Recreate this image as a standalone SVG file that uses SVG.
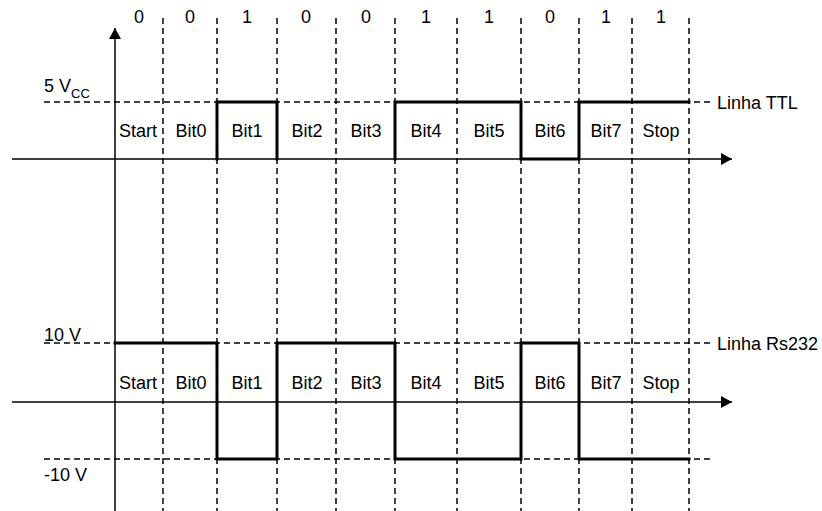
<svg xmlns="http://www.w3.org/2000/svg" width="822" height="511" viewBox="0 0 822 511">
<style>
text{font-family:"Liberation Sans",Arial,sans-serif;font-size:18px;fill:#000}
.m{text-anchor:middle}
.ax{stroke:#000;stroke-width:1.5;fill:none}
.d{stroke:#000;stroke-width:1.5;stroke-dasharray:6,4;fill:none}
.s{stroke:#000;stroke-width:3;fill:none;stroke-linejoin:miter;stroke-linecap:square}
</style>
<defs>
<marker id="ah" markerWidth="12" markerHeight="12" refX="11" refY="6" orient="auto" markerUnits="userSpaceOnUse">
<path d="M0,0 L11,6 L0,12 Z" fill="#000"/>
</marker>
</defs>
<rect width="822" height="511" fill="#fff"/>
<g id="grid">
<path class="d" d="M163,18V511M217,18V511M277,18V511M336,18V511M395,18V511M457,18V511M521,18V511M579,18V511M632,18V511M689,18V511"/>
<path class="d" d="M44,102H711M44,343H711M44,459H711"/>
</g>
<g id="axes">
<path class="ax" d="M115,511V28" marker-end="url(#ah)"/>
<path class="ax" d="M12,159H732" marker-end="url(#ah)"/>
<path class="ax" d="M12,402H732" marker-end="url(#ah)"/>
</g>
<g id="signals">
<path class="s" d="M217,159V102H277V159"/>
<path class="s" d="M395,159V102H521V159H579V102H689"/>
<path class="s" d="M115,343H217V459H277V343H395V459H521V343H579V459H689"/>
</g>
<g id="bits">
<text class="m" x="139" y="23">0</text>
<text class="m" x="190" y="23">0</text>
<text class="m" x="247" y="23">1</text>
<text class="m" x="306" y="23">0</text>
<text class="m" x="366" y="23">0</text>
<text class="m" x="426" y="23">1</text>
<text class="m" x="489" y="23">1</text>
<text class="m" x="550" y="23">0</text>
<text class="m" x="606" y="23">1</text>
<text class="m" x="661" y="23">1</text>
</g>
<g id="ttl-labels">
<text class="m" x="138" y="137">Start</text>
<text class="m" x="191" y="137">Bit0</text>
<text class="m" x="247" y="137">Bit1</text>
<text class="m" x="307" y="137">Bit2</text>
<text class="m" x="366" y="137">Bit3</text>
<text class="m" x="426" y="137">Bit4</text>
<text class="m" x="489" y="137">Bit5</text>
<text class="m" x="550" y="137">Bit6</text>
<text class="m" x="606" y="137">Bit7</text>
<text class="m" x="661" y="137">Stop</text>
</g>
<g id="rs232-labels">
<text class="m" x="138" y="389">Start</text>
<text class="m" x="191" y="389">Bit0</text>
<text class="m" x="247" y="389">Bit1</text>
<text class="m" x="307" y="389">Bit2</text>
<text class="m" x="366" y="389">Bit3</text>
<text class="m" x="426" y="389">Bit4</text>
<text class="m" x="489" y="389">Bit5</text>
<text class="m" x="550" y="389">Bit6</text>
<text class="m" x="606" y="389">Bit7</text>
<text class="m" x="661" y="389">Stop</text>
</g>
<g id="levels">
<text x="44" y="92">5 V<tspan font-size="13" dy="6">CC</tspan></text>
<text x="44" y="341">10 V</text>
<text x="44" y="481">-10 V</text>
<text x="717" y="108.5">Linha TTL</text>
<text x="717" y="349.5">Linha Rs232</text>
</g>
</svg>
